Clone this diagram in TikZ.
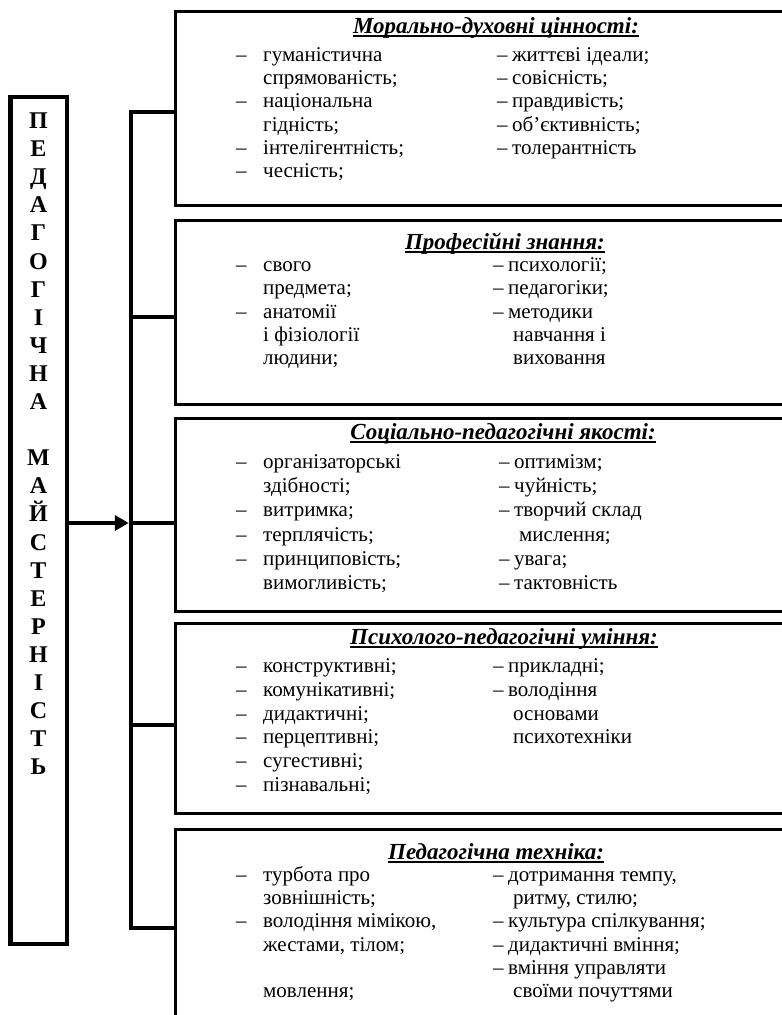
\documentclass[tikz,border=0pt]{standalone}
\usepackage{fontspec}
\setmainfont{Liberation Serif}
\usetikzlibrary{arrows.meta,positioning}

% list items: dash and indent for the two columns
\newcommand{\lit}{\makebox[27pt][l]{–}}
\newcommand{\lct}{\hspace*{27pt}}
\newcommand{\rit}{\makebox[15pt][l]{–}}
\newcommand{\rct}{\hspace*{20pt}}
\newcommand{\hdul}[1]{\setbox0\hbox{#1}\rlap{\rule[-3.5pt]{\wd0}{2pt}}\box0}

\begin{document}
\begin{tikzpicture}[x=1pt, y=-1pt,
  box/.style={draw, line width=2.5pt, anchor=north west, minimum width=660pt, inner sep=0},
  hd/.style={anchor=base, inner sep=0, font=\fontsize{23}{27}\selectfont\bfseries\itshape},
  col/.style={anchor=base west, inner sep=0, font=\fontsize{21}{#1}\selectfont},
  letter/.style={anchor=base, inner sep=0, font=\fontsize{24}{28}\selectfont\bfseries},
  bus/.style={line width=4.5pt},
  arr/.style={line width=4.5pt, -{Triangle[length=14pt,width=15pt]}}
]
\useasboundingbox (0,0) rectangle (782,1015);
\clip (0,0) rectangle (782,1015);

% title column
\node[draw, line width=4.5pt, minimum width=56.5pt, minimum height=847pt, inner sep=0] (lbox) at (38.5,520.5) {};
\foreach \ch/\k in {П/0,Е/1,Д/2,А/3,Г/4,О/5,Г/6,І/7,Ч/8,Н/9,А/10,
                    М/12,А/13,Й/14,С/15,Т/16,Е/17,Р/18,Н/19,І/20,С/21,Т/22,Ь/23}
  \node[letter] (t\k) at (38.5,128.5+28.1*\k) {\ch};

% boxes
\node[box, minimum height=194pt] (b1) at (174,10) {};
\node[box, minimum height=184pt] (b2) at (174,219) {};
\node[box, minimum height=193pt] (b3) at (174,417) {};
\node[box, minimum height=190pt] (b4) at (174,622) {};
\node[box, minimum height=212pt] (b5) at (174,828) {};

% box 1
\node[hd] (h1) at (496,33) {\hdul{Морально-духовні цінності:}};
\node[col=23.2] (l1) at (236,61.5) {\begin{tabular}[t]{@{}l@{}}
  \lit гуманістична\\ \lct спрямованість;\\ \lit національна\\
  \lct гідність;\\ \lit інтелігентність;\\ \lit чесність;
\end{tabular}};
\node[col=23.2] (r1) at (497,61.5) {\begin{tabular}[t]{@{}l@{}}
  \rit життєві ідеали;\\ \rit совісність;\\ \rit правдивість;\\
  \rit об’єктивність;\\ \rit толерантність
\end{tabular}};

% box 2
\node[hd] (h2) at (505,249) {\hdul{Професійні знання:}};
\node[col=23.25] (l2) at (236,271.5) {\begin{tabular}[t]{@{}l@{}}
  \lit свого\\ \lct предмета;\\ \lit анатомії\\ \lct і фізіології\\ \lct людини;
\end{tabular}};
\node[col=23.25] (r2) at (493,271.5) {\begin{tabular}[t]{@{}l@{}}
  \rit психології;\\ \rit педагогіки;\\ \rit методики\\ \rct навчання і\\ \rct виховання
\end{tabular}};

% box 3
\node[hd] (h3) at (503,439) {\hdul{Соціально-педагогічні якості:}};
\node[col=24.2] (l3) at (236,468.5) {\begin{tabular}[t]{@{}l@{}}
  \lit організаторські\\ \lct здібності;\\ \lit витримка;\\ \lit терплячість;\\
  \lit принциповість;\\ \lct вимогливість;
\end{tabular}};
\node[col=24.2] (r3) at (499,468.5) {\begin{tabular}[t]{@{}l@{}}
  \rit оптимізм;\\ \rit чуйність;\\ \rit творчий склад\\ \rct мислення;\\
  \rit увага;\\ \rit тактовність
\end{tabular}};

% box 4
\node[hd] (h4) at (504,644) {\hdul{Психолого-педагогічні уміння:}};
\node[col=23.8] (l4) at (236,672.5) {\begin{tabular}[t]{@{}l@{}}
  \lit конструктивні;\\ \lit комунікативні;\\ \lit дидактичні;\\
  \lit перцептивні;\\ \lit сугестивні;\\ \lit пізнавальні;
\end{tabular}};
\node[col=23.8] (r4) at (493,672.5) {\begin{tabular}[t]{@{}l@{}}
  \rit прикладні;\\ \rit володіння\\ \rct основами\\ \rct психотехніки
\end{tabular}};

% box 5
\node[hd] (h5) at (496,859) {\hdul{Педагогічна техніка:}};
\node[col=23.2] (l5) at (236,881.5) {\begin{tabular}[t]{@{}l@{}}
  \lit турбота про\\ \lct зовнішність;\\ \lit володіння мімікою,\\
  \lct жестами, тілом;\\ \\ \lct мовлення;
\end{tabular}};
\node[col=23.2] (r5) at (493,881.5) {\begin{tabular}[t]{@{}l@{}}
  \rit дотримання темпу,\\ \rct ритму, стилю;\\ \rit культура спілкування;\\
  \rit дидактичні вміння;\\ \rit вміння управляти\\ \rct своїми почуттями
\end{tabular}};

% bus with branches
\coordinate (j1) at (131,112);
\coordinate (j2) at (131,317);
\coordinate (j3) at (131,523);
\coordinate (j4) at (131,725);
\coordinate (j5) at (131,928);
\draw[bus] (b1.west |- j1) -- (j1) -- (j5) -- (b5.west |- j5);
\draw[bus] (j2) -- (b2.west |- j2);
\draw[bus] (j3) -- (b3.west |- j3);
\draw[bus] (j4) -- (b4.west |- j4);
\draw[arr] (lbox.east |- j3) -- ([xshift=-2.25pt]j3);
\end{tikzpicture}
\end{document}
